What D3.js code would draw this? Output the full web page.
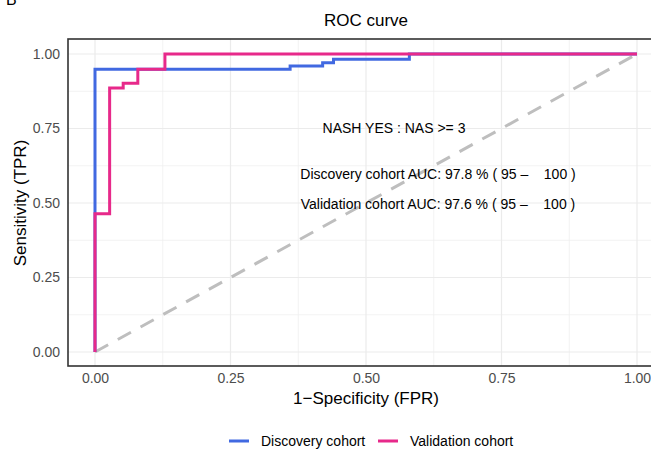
<!DOCTYPE html>
<html>
<head>
<meta charset="utf-8">
<script src="https://cdn.jsdelivr.net/npm/d3@7"></script>
<style>
  body { margin: 0; background: #fff; }
  text { font-family: "Liberation Sans", Arial, sans-serif; }
</style>
</head>
<body>
<div class="vis"></div>
<script>
// ROC punkter (FPR, TPR)
const discFPR = [0, 0, 0.36, 0.42, 0.44, 0.58, 1];
const discTPR = [0, 0.949, 0.96, 0.971, 0.982, 1, 1];
const valFPR = [0, 0, 0.027, 0.052, 0.079, 0.129, 1];
const valTPR = [0, 0.464, 0.886, 0.902, 0.949, 1, 1];

const tickValues = [0, 0.25, 0.5, 0.75, 1];
const minorValues = [0.125, 0.375, 0.625, 0.875];
const seriesNames = ["Discovery cohort", "Validation cohort"];
const seriesColors = ["#4169e1", "#e7298a"];
const notes = [
  "NASH YES : NAS >= 3",
  "Discovery cohort AUC: 97.8 % ( 95 –    100 )",
  "Validation cohort AUC: 97.6 % ( 95 –    100 )"
];

const width = 651;
const height = 452;

const svg = d3
  .select(".vis")
  .append("svg")
  .attr("width", width)
  .attr("height", height);

// skalaer
const xScale = d3.scaleLinear().domain([0, 1]).range([95, 637]);
const yScale = d3.scaleLinear().domain([0, 1]).range([352, 54]);

const panel = { left: 68, right: 664, top: 39, bottom: 366 };

// gitterlinjer
const grid = svg.append("g");
grid.selectAll(".vminor").data(minorValues).enter().append("line")
  .attr("x1", (d) => xScale(d)).attr("x2", (d) => xScale(d))
  .attr("y1", panel.top).attr("y2", panel.bottom)
  .attr("stroke", "#f0f0f0").attr("stroke-width", 0.8);
grid.selectAll(".hminor").data(minorValues).enter().append("line")
  .attr("y1", (d) => yScale(d)).attr("y2", (d) => yScale(d))
  .attr("x1", panel.left).attr("x2", panel.right)
  .attr("stroke", "#f0f0f0").attr("stroke-width", 0.8);
grid.selectAll(".vmajor").data(tickValues).enter().append("line")
  .attr("x1", (d) => xScale(d)).attr("x2", (d) => xScale(d))
  .attr("y1", panel.top).attr("y2", panel.bottom)
  .attr("stroke", "#ebebeb").attr("stroke-width", 1.2);
grid.selectAll(".hmajor").data(tickValues).enter().append("line")
  .attr("y1", (d) => yScale(d)).attr("y2", (d) => yScale(d))
  .attr("x1", panel.left).attr("x2", panel.right)
  .attr("stroke", "#ebebeb").attr("stroke-width", 1.2);

// diagonal
svg.append("line")
  .attr("x1", xScale(0)).attr("y1", yScale(0))
  .attr("x2", xScale(1)).attr("y2", yScale(1))
  .attr("stroke", "#bebebe")
  .attr("stroke-width", 3)
  .attr("stroke-dasharray", "15,11");

// kurverne
const line = d3.line()
  .x((d) => xScale(d[0]))
  .y((d) => yScale(d[1]))
  .curve(d3.curveStepAfter);

const series = [
  d3.zip(discFPR, discTPR),
  d3.zip(valFPR, valTPR)
];

svg.selectAll(".roc").data(series).enter().append("path")
  .attr("fill", "none")
  .attr("stroke", (d, i) => seriesColors[i])
  .attr("stroke-width", 3)
  .attr("d", line);

// ramme
svg.append("rect")
  .attr("x", panel.left).attr("y", panel.top)
  .attr("width", panel.right - panel.left)
  .attr("height", panel.bottom - panel.top)
  .attr("fill", "none")
  .attr("stroke", "#333")
  .attr("stroke-width", 1.6);

// akser
const xAxis = svg.append("g")
  .attr("transform", "translate(0," + panel.bottom + ")")
  .call(d3.axisBottom(xScale).tickValues(tickValues).tickSize(0).tickPadding(7).tickFormat(d3.format(".2f")));
const yAxis = svg.append("g")
  .attr("transform", "translate(" + panel.left + ",0)")
  .call(d3.axisLeft(yScale).tickValues(tickValues).tickSize(0).tickPadding(8).tickFormat(d3.format(".2f")));
[xAxis, yAxis].forEach((a) => {
  a.select(".domain").remove();
  a.selectAll("text").style("font-size", "14px").attr("fill", "#4d4d4d")
    .style("font-family", "'Liberation Sans', Arial, sans-serif");
});

// titler
svg.append("text")
  .attr("x", 366).attr("y", 26)
  .attr("text-anchor", "middle")
  .style("font-size", "17px")
  .text("ROC curve");

svg.append("text")
  .attr("x", 366).attr("y", 404)
  .attr("text-anchor", "middle")
  .style("font-size", "17px")
  .text("1\u2212Specificity (FPR)");

svg.append("text")
  .attr("transform", "translate(26," + 203 + ") rotate(-90)")
  .attr("text-anchor", "middle")
  .style("font-size", "17px")
  .text("Sensitivity (TPR)");

svg.append("text")
  .attr("x", 6).attr("y", 5)
  .style("font-size", "16px")
  .text("B");

// noter
const noteX = [394, 438, 438];
const noteY = [133, 179, 209];
svg.selectAll(".note").data(notes).enter().append("text")
  .attr("x", (d, i) => noteX[i])
  .attr("y", (d, i) => noteY[i])
  .attr("text-anchor", "middle")
  .style("font-size", "14px")
  .style("white-space", "pre")
  .text((d) => d);

// legende
const legX = [229, 378];
const legend = svg.selectAll(".leg").data(seriesNames).enter().append("g")
  .attr("transform", (d, i) => "translate(" + legX[i] + ",441)");
legend.append("line")
  .attr("x1", 0).attr("x2", 20)
  .attr("stroke", (d, i) => seriesColors[i])
  .attr("stroke-width", 3);
legend.append("text")
  .attr("x", 32).attr("y", 5)
  .style("font-size", "14px")
  .text((d) => d);
</script>
</body>
</html>
